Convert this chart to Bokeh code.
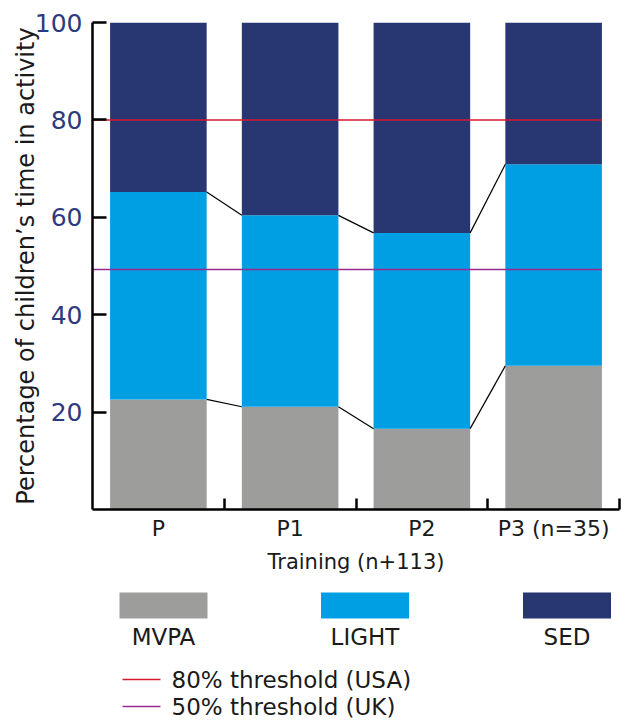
from bokeh.plotting import figure
from bokeh.models import Range1d, FixedTicker, ColumnDataSource
from bokeh.layouts import column
from bokeh.embed import file_html
from bokeh.resources import INLINE
from bokeh.core.properties import value

# ---- data ----
categories = ["P", "P1", "P2", "P3 (n=35)"]
series = ["MVPA", "LIGHT", "SED"]
mvpa = [22.6, 21.1, 16.6, 29.5]
light = [42.6, 39.3, 40.2, 41.4]
sed = [34.8, 39.6, 43.4, 29.1]
thresholds = [80.0, 49.3]
threshold_labels = ["80% threshold (USA)", "50% threshold (UK)"]
y_ticks = [20, 40, 60, 80, 100]
x_title = "Training (n+113)"
y_title = "Percentage of children\u2019s time in activity"

# ---- styles ----
series_colors = ["#9d9d9c", "#009fe3", "#283671"]
threshold_colors = ["#d7192d", "#9c2a8c"]
FONT = "DejaVu Sans"
TXT = "#1a1a1a"
BAR_W = 0.733
W = 621
BL, BR = 92, 2          # shared left/right borders of both stacked figures
FW = W - BL - BR        # frame width in px
TOP = 22
MAIN_H = 576
LH = 142

n = len(categories)
xc = [i + 0.5 for i in range(n)]
src = ColumnDataSource(dict(x=xc, MVPA=mvpa, LIGHT=light, SED=sed))

p = figure(width=W, height=MAIN_H, x_range=Range1d(0, n), y_range=Range1d(0, 100),
           output_backend="svg", toolbar_location=None,
           min_border_left=BL, min_border_right=BR, min_border_top=TOP,
           min_border_bottom=MAIN_H - TOP - 488)
p.outline_line_color = None
p.xgrid.grid_line_color = None
p.ygrid.grid_line_color = None

p.vbar_stack(series, x="x", width=BAR_W, color=series_colors, line_color=None, source=src)

# connectors between stacked segments
light_top = [m + l for m, l in zip(mvpa, light)]
for tops in (mvpa, light_top):
    p.segment(x0=[xc[i] + BAR_W / 2 for i in range(n - 1)], y0=tops[:-1],
              x1=[xc[i + 1] - BAR_W / 2 for i in range(n - 1)], y1=tops[1:],
              line_color="black", line_width=1.2)

# threshold lines
for t, c in zip(thresholds, threshold_colors):
    p.segment(x0=[0], y0=[t], x1=[xc[-1] + BAR_W / 2], y1=[t], line_color=c, line_width=1.5)

# x axis
p.xaxis.ticker = FixedTicker(ticks=xc, minor_ticks=[i + 1 for i in range(n)])
p.xaxis.major_label_overrides = {x: c for x, c in zip(xc, categories)}
p.xaxis.major_tick_line_color = None
p.xaxis.minor_tick_in = 11
p.xaxis.minor_tick_out = 0
p.xaxis.minor_tick_line_width = 2.5
p.xaxis.minor_tick_line_color = "black"
p.xaxis.axis_line_width = 2.5
p.xaxis.axis_line_color = "black"
p.xaxis.major_label_text_font = FONT
p.xaxis.major_label_text_font_size = "22px"
p.xaxis.major_label_text_color = TXT
p.xaxis.major_label_standoff = 0
p.xaxis.axis_label = x_title
p.xaxis.axis_label_text_font = FONT
p.xaxis.axis_label_text_font_size = "21px"
p.xaxis.axis_label_text_font_style = "normal"
p.xaxis.axis_label_text_color = TXT
p.xaxis.axis_label_standoff = 6

# y axis
p.yaxis.ticker = FixedTicker(ticks=y_ticks)
p.yaxis.major_tick_in = 14
p.yaxis.major_tick_out = 0
p.yaxis.major_tick_line_width = 2.5
p.yaxis.minor_tick_line_color = None
p.yaxis.axis_line_width = 2.5
p.yaxis.major_label_text_font = FONT
p.yaxis.major_label_text_font_size = "25px"
p.yaxis.major_label_text_color = "#2e3a7e"
p.yaxis.major_label_standoff = 10
p.yaxis.axis_label = y_title
p.yaxis.axis_label_text_font = FONT
p.yaxis.axis_label_text_font_size = "24px"
p.yaxis.axis_label_text_font_style = "normal"
p.yaxis.axis_label_text_color = TXT
p.yaxis.axis_label_standoff = -8

# ---- legend figure (x, y in px relative to the frame's top-left) ----
lg = figure(width=W, height=LH, x_range=Range1d(0, FW), y_range=Range1d(LH, 0),
            output_backend="svg", toolbar_location=None,
            min_border_left=BL, min_border_right=BR, min_border_top=0, min_border_bottom=0)
lg.axis.visible = False
lg.xgrid.grid_line_color = None
lg.ygrid.grid_line_color = None
lg.outline_line_color = None

box_x = [71, 272.5, 474.5]
lg.rect(x=box_x, y=[29] * 3, width=88, height=26, color=series_colors, line_color=None)
lg.text(x=box_x, y=[60] * 3, text=series, text_font=value(FONT), text_font_size="23px",
        text_align="center", text_baseline="middle", text_color=TXT)

row_y = [103, 130]
lg.segment(x0=[30] * 2, y0=row_y, x1=[68] * 2, y1=row_y, line_color=threshold_colors, line_width=1.5)
lg.text(x=[79] * 2, y=row_y, text=threshold_labels, text_font=value(FONT), text_font_size="23px",
        text_align="left", text_baseline="middle", text_color=TXT)

layout = column(p, lg, spacing=0)
open("out.html", "w").write(file_html(layout, INLINE))
